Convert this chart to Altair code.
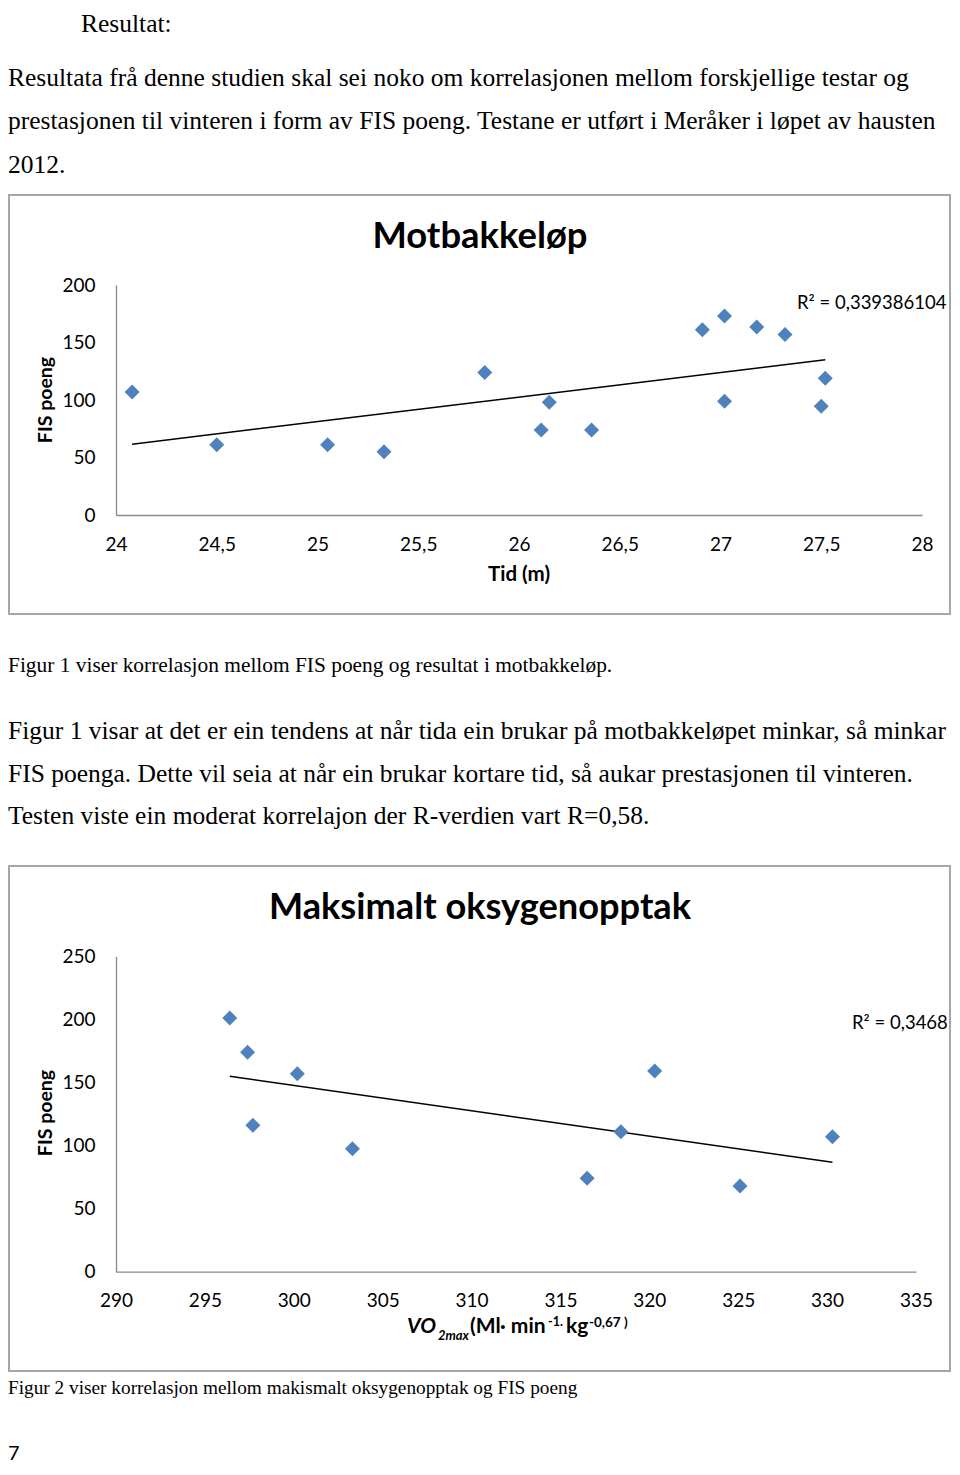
import altair as alt
import pandas as pd

# ---------------- data ----------------
tid_m = [24.08, 24.50, 25.05, 25.33, 25.83, 26.15, 26.11, 26.36, 26.91, 27.02, 27.18, 27.32, 27.02, 27.52, 27.50]
fis_1 = [107, 61, 61, 55, 124, 98, 74, 74, 161, 173, 163.5, 157, 99, 119, 94.5]

vo2max = [296.4, 297.4, 300.2, 297.7, 303.3, 320.3, 318.4, 316.5, 325.1, 330.3]
fis_2 = [201, 174, 157, 116, 97.5, 159, 111, 74, 68, 107]

x1_ticks = [24, 24.5, 25, 25.5, 26, 26.5, 27, 27.5, 28]
y1_ticks = [0, 50, 100, 150, 200]
x2_ticks = [290, 295, 300, 305, 310, 315, 320, 325, 330, 335]
y2_ticks = [0, 50, 100, 150, 200, 250]

chart_titles = ["Motbakkeløp", "Maksimalt oksygenopptak"]
r2_labels = ["R² = 0,339386104", "R² = 0,3468"]
y_titles = ["FIS poeng", "FIS poeng"]
x1_title = "Tid (m)"
x2_title_parts = ["VO", "2max", "(Ml· min", "-1.", "kg", "-0,67 )"]

heading = "Resultat:"
para1 = [
    "Resultata frå denne studien skal sei noko om korrelasjonen mellom forskjellige testar og",
    "prestasjonen til vinteren i form av FIS poeng. Testane er utført i Meråker i løpet av hausten",
    "2012.",
]
para2 = [
    "Figur 1 visar at det er ein tendens at når tida ein brukar på motbakkeløpet minkar, så minkar",
    "FIS poenga. Dette vil seia at når ein brukar kortare tid, så aukar prestasjonen til vinteren.",
    "Testen viste ein moderat korrelajon der R-verdien vart R=0,58.",
]
captions = [
    "Figur 1 viser korrelasjon mellom FIS poeng og resultat i motbakkeløp.",
    "Figur 2 viser korrelasjon mellom makismalt oksygenopptak og FIS poeng",
]
page_no = "7"

# ---------------- layout (page pixel coordinates) ----------------
M = 8
W, H = 944, 1459
SERIF = "Liberation Serif"
SANS = "Lato"
BLUE = "#4F81BD"
AXIS_GRAY = "#898989"
BOX_GRAY = "#a6a6a6"


def P(v):
    return v - M


def txt(s, x, y, size, font=SERIF, weight="normal", style="normal", align="left", angle=None):
    kw = dict(align=align, baseline="alphabetic", font=font, fontSize=size,
              fontWeight=weight, fontStyle=style, color="black")
    if angle is not None:
        kw["angle"] = angle
    return alt.Chart(pd.DataFrame({"t": [s]})).mark_text(**kw).encode(
        text="t:N", x=alt.value(P(x)), y=alt.value(P(y)))


def box(x0, y0, x1, y1):
    return alt.Chart(pd.DataFrame({"a": [0]})).mark_rect(
        fillOpacity=0, stroke=BOX_GRAY, strokeWidth=2
    ).encode(x=alt.value(P(x0)), x2=alt.value(P(x1)), y=alt.value(P(y0)), y2=alt.value(P(y1)))


def scatter(xs, ys, xdom, xpx, ydom, ypx, xticks, yticks):
    df = pd.DataFrame({"x": xs, "y": ys})
    xscale = alt.Scale(domain=xdom, range=[P(xpx[0]), P(xpx[1])], nice=False, zero=False)
    yscale = alt.Scale(domain=ydom, range=[P(ypx[0]), P(ypx[1])], nice=False, zero=False)
    common = dict(grid=False, ticks=False, tickSize=0, domainColor=AXIS_GRAY, domainWidth=1.3,
                  labelFont=SANS, labelFontSize=19, labelColor="black", title=None,
                  labelOverlap=False, labelFlush=False,
                  labelExpr="replace(toString(datum.value), '.', ',')")
    xaxis = alt.Axis(orient="bottom", offset=P(ypx[0]) - H, values=xticks,
                     labelBaseline="alphabetic", labelPadding=35, **common)
    yaxis = alt.Axis(orient="left", offset=-P(xpx[0]), values=yticks,
                     labelPadding=21, **common)
    enc = dict(x=alt.X("x:Q", scale=xscale, axis=xaxis), y=alt.Y("y:Q", scale=yscale, axis=yaxis))
    pts = alt.Chart(df).mark_point(shape="diamond", filled=True, size=225, color=BLUE, opacity=1).encode(**enc)
    line = alt.Chart(df).transform_regression("x", "y").mark_line(color="black", strokeWidth=1.5).encode(**enc)
    return alt.layer(line, pts)


layers = []

# borders of the two charts
layers.append(box(9, 195, 950, 614))
layers.append(box(9, 866, 950, 1371))

# document text
layers.append(txt(heading, 81, 32, 25.5))
for s, yb in zip(para1, [86, 129, 173]):
    layers.append(txt(s, 8, yb, 25.5))
layers.append(txt(captions[0], 8, 672, 21.4))
for s, yb in zip(para2, [739, 782, 824]):
    layers.append(txt(s, 8, yb, 25.5))
layers.append(txt(captions[1], 8, 1394, 19.3))
layers.append(txt(page_no, 8, 1460, 20, font=SANS))

# chart 1
layers.append(txt(chart_titles[0], 480, 248, 36.4, font=SANS, weight="bold", align="center"))
layers.append(txt(r2_labels[0], 797, 309, 18.5, font=SANS))
layers.append(txt(x1_title, 519, 581, 20.5, font=SANS, weight="bold", align="center"))
layers.append(txt(y_titles[0], 52, 400, 19.5, font=SANS, weight="bold", align="center", angle=270))
layers.append(scatter(tid_m, fis_1, [24, 28], [116, 922], [0, 200], [515, 285], x1_ticks, y1_ticks))

# chart 2
layers.append(txt(chart_titles[1], 480, 919, 36.2, font=SANS, weight="bold", align="center"))
layers.append(txt(r2_labels[1], 852, 1029, 18.5, font=SANS))
layers.append(txt(y_titles[1], 52, 1113, 19.5, font=SANS, weight="bold", align="center", angle=270))
# composite x title: VO2max (Ml· min-1· kg-0,67 )
part_style = [
    (407, 1333, 21, "bold", "italic"),
    (438, 1340, 13, "bold", "italic"),
    (470, 1333, 21, "bold", "normal"),
    (548, 1326, 12.5, "bold", "normal"),
    (566, 1333, 21, "bold", "normal"),
    (589, 1327, 13.5, "bold", "normal"),
]
for s, (x, y, fs, fw, st) in zip(x2_title_parts, part_style):
    layers.append(txt(s, x, y, fs, font=SANS, weight=fw, style=st))
layers.append(scatter(vo2max, fis_2, [290, 335], [116, 916], [0, 250], [1271.7, 956.3], x2_ticks, y2_ticks))

chart = alt.layer(*layers).resolve_scale(x="independent", y="independent").properties(
    width=W, height=H, padding=0, autosize="none"
).configure_view(strokeWidth=0)

chart.save("out.html", embed_options={"renderer": "svg", "actions": False})
